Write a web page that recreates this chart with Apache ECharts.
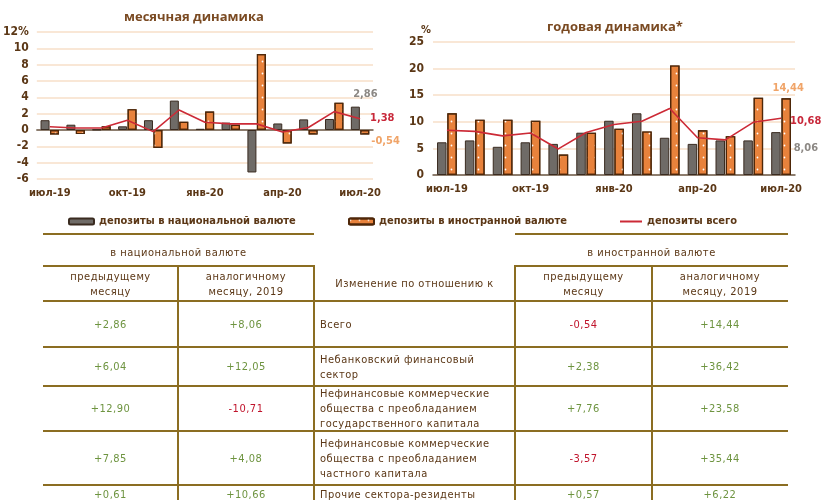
<!DOCTYPE html>
<html>
<head>
<meta charset="utf-8">
<script src="https://cdn.jsdelivr.net/npm/echarts@6/dist/echarts.min.js"></script>
<style>
  html, body { margin: 0; padding: 0; background: #fff; }
  #page { position: relative; width: 821px; height: 500px; overflow: hidden; }
  #chart { position: absolute; left: 0; top: 0; width: 821px; height: 240px; }
  #tbl { position: absolute; left: 0; top: 0; width: 821px; height: 500px; pointer-events: none;
    font-family: "DejaVu Sans Condensed", sans-serif; font-size: 11px; }
  .ln { position: absolute; background: #8b6d22; }
  .tx { position: absolute; display: flex; align-items: center; line-height: 15px; letter-spacing: 0.5px; }
</style>
</head>
<body>
<div id="page">
  <div id="chart"></div>
  <div id="tbl"></div>
</div>
<script>
// months on both charts
const months = ['июл-19', 'авг-19', 'сен-19', 'окт-19', 'ноя-19', 'дек-19', 'янв-20',
  'фев-20', 'мар-20', 'апр-20', 'май-20', 'июн-20', 'июл-20']

// monthly change, %
const monthlyNational = [1.2, 0.65, 0.05, 0.45, 1.2, 3.6, 0.15, 0.9, -5.2, 0.8, 1.3, 1.35, 2.86]
const monthlyForeign = [-0.55, -0.5, 0.45, 2.55, -2.2, 1.0, 2.25, 0.65, 9.3, -1.65, -0.55, 3.35, -0.54]
const monthlyTotal = [0.4, 0.25, 0.25, 1.2, -0.2, 2.45, 0.95, 0.75, 0.75, -0.25, 0.3, 2.25, 1.38]

// yearly change, %
const yearlyNational = [6.15, 6.5, 5.3, 6.15, 5.85, 7.95, 10.2, 11.6, 7.0, 5.85, 6.5, 6.5, 8.06]
const yearlyForeign = [11.6, 10.4, 10.4, 10.2, 3.85, 7.95, 8.7, 8.2, 20.6, 8.4, 7.3, 14.5, 14.44]
const yearlyTotal = [8.4, 8.2, 7.35, 7.9, 4.9, 8.0, 9.5, 10.1, 12.5, 7.0, 6.6, 9.9, 10.68]

// table
const rowNames = [
  ['Всего'],
  ['Небанковский финансовый', 'сектор'],
  ['Нефинансовые коммерческие', 'общества с преобладанием', 'государственного капитала'],
  ['Нефинансовые коммерческие', 'общества с преобладанием', 'частного капитала'],
  ['Прочие сектора-резиденты']
]
const natPrevMonth = [2.86, 6.04, 12.90, 7.85, 0.61]
const natYearAgo = [8.06, 12.05, -10.71, 4.08, 10.66]
const forPrevMonth = [-0.54, 2.38, 7.76, -3.57, 0.57]
const forYearAgo = [14.44, 36.42, 23.58, 35.44, 6.22]

const NAT = 'депозиты в национальной валюте'
const FOR = 'депозиты в иностранной валюте'
const TOT = 'депозиты всего'

const brown = '#5b3716'
const font = '"DejaVu Sans Condensed", sans-serif'
const gridColor = '#f7dfc9'
const fmt = v => v.toFixed(2).replace('.', ',')

const natStyle = { color: '#6f6b67', borderColor: '#3a2b20', borderWidth: 1 }
const forStyle = {
  color: '#e8823c', borderColor: '#4e2709', borderWidth: 1.2,
  decal: { symbol: 'circle', symbolSize: 0.6, color: '#ffffff', dashArrayX: [3, 6], dashArrayY: [3, 9] }
}
const lineStyle = { color: '#cc2a36', width: 1.6 }

function lastLabel(arr, label) {
  return arr.map((v, i) => i === arr.length - 1 ? { value: v, label: Object.assign({ show: true }, label) } : v)
}

function catAxis(gridIndex, extra) {
  return Object.assign({
    type: 'category', gridIndex, data: months,
    axisLine: { lineStyle: { color: '#6a5b4c', width: 1.5 } },
    axisTick: { interval: 2, length: 4, lineStyle: { color: '#6a5b4c' } },
    axisLabel: { interval: 2, color: brown, fontWeight: 'bold', fontSize: 11, fontFamily: font, margin: 9 }
  }, extra)
}

function valAxis(gridIndex, min, max, interval, extra) {
  return Object.assign({
    type: 'value', gridIndex, min, max, interval,
    axisLine: { show: false }, axisTick: { show: false },
    splitLine: { lineStyle: { color: gridColor, width: 1.5 } },
    axisLabel: { color: brown, fontWeight: 'bold', fontSize: 12, fontFamily: font, margin: 9 }
  }, extra)
}

const annot = { fontWeight: 'bold', fontSize: 11, fontFamily: font }
const legendText = { color: brown, fontWeight: 'bold', fontSize: 11, fontFamily: font }

const chart = echarts.init(document.getElementById('chart'))
chart.setOption({
  animation: false,
  title: [
    { text: 'месячная динамика', left: 124, top: 11, padding: 0,
      textStyle: { color: '#7a4a22', fontSize: 13, fontWeight: 'bold', fontFamily: 'Open Sans' } },
    { text: 'годовая динамика*', left: 547, top: 21, padding: 0,
      textStyle: { color: '#7a4a22', fontSize: 13, fontWeight: 'bold', fontFamily: 'Open Sans' } }
  ],
  legend: [
    { data: [NAT], left: 68, top: 216, padding: 0, itemWidth: 25, itemHeight: 6, textStyle: legendText },
    { data: [FOR], left: 348, top: 216, padding: 0, itemWidth: 25, itemHeight: 6, textStyle: legendText },
    { data: [TOT], left: 620, top: 216, padding: 0, itemWidth: 22, itemHeight: 2, icon: 'rect', textStyle: legendText }
  ],
  grid: [
    { left: 32, top: 32, width: 341, height: 147 },
    { left: 433, top: 42, width: 362, height: 133 }
  ],
  xAxis: [
    catAxis(0, { axisLabel: { show: false } }),
    catAxis(0, { position: 'bottom', axisLine: { show: false, onZero: false }, axisTick: { show: false } }),
    catAxis(1)
  ],
  yAxis: [
    valAxis(0, -6, 12, 2, { axisLabel: { color: brown, fontWeight: 'bold', fontSize: 12, fontFamily: font, margin: 8,
      formatter: v => v === 12 ? '12%' : String(v) } }),
    valAxis(1, 0, 25, 5, { name: '%', nameGap: 4,
      nameTextStyle: { color: brown, fontWeight: 'bold', fontSize: 11, fontFamily: font, align: 'right', padding: [0, 2, 0, 0] } })
  ],
  series: [
    { name: NAT, type: 'bar', xAxisIndex: 0, yAxisIndex: 0, barWidth: 9, barGap: '5%', itemStyle: natStyle,
      data: lastLabel(monthlyNational, Object.assign({ position: 'top', offset: [10, -2],
        formatter: p => fmt(p.value), color: '#8c8884' }, annot)) },
    { name: FOR, type: 'bar', xAxisIndex: 0, yAxisIndex: 0, barWidth: 9, barGap: '5%', itemStyle: forStyle,
      data: lastLabel(monthlyForeign, Object.assign({ position: 'right', offset: [-3, 9],
        formatter: p => '-' + fmt(Math.abs(p.value)), color: '#f0a468' }, annot)) },
    { name: TOT, type: 'line', xAxisIndex: 0, yAxisIndex: 0, data: monthlyTotal, symbol: 'none',
      lineStyle, itemStyle: { color: lineStyle.color },
      endLabel: Object.assign({ show: true, distance: 10, offset: [0, -1], formatter: p => fmt(p.value),
        color: '#c8283a' }, annot) },

    { name: NAT, type: 'bar', xAxisIndex: 2, yAxisIndex: 1, barWidth: 9.5, barGap: '8%', itemStyle: natStyle,
      data: lastLabel(yearlyNational, Object.assign({ position: 'right', offset: [8, -5],
        formatter: p => fmt(p.value), color: '#8c8884' }, annot)) },
    { name: FOR, type: 'bar', xAxisIndex: 2, yAxisIndex: 1, barWidth: 9.5, barGap: '8%', itemStyle: forStyle,
      data: lastLabel(yearlyForeign, Object.assign({ position: 'top', offset: [2, 0],
        formatter: p => fmt(p.value), color: '#f0a468' }, annot)) },
    { name: TOT, type: 'line', xAxisIndex: 2, yAxisIndex: 1, data: yearlyTotal, symbol: 'none',
      lineStyle, itemStyle: { color: lineStyle.color },
      endLabel: Object.assign({ show: true, distance: 9, offset: [0, 3], formatter: p => fmt(p.value),
        color: '#c8283a' }, annot) }
  ]
})

// ---- table ----
const tbl = document.getElementById('tbl')
const colEdges = [43, 178, 314, 515, 652, 788]
const rowEdges = [301, 347, 386, 431, 485, 530]
const green = '#6e9440'
const red = '#c0142c'

function line(x, y, w, h) {
  const d = document.createElement('div')
  d.className = 'ln'
  Object.assign(d.style, { left: x + 'px', top: y + 'px', width: w + 'px', height: h + 'px' })
  tbl.appendChild(d)
}
function text(html, x, y, w, h, align, color) {
  const d = document.createElement('div')
  d.className = 'tx'
  Object.assign(d.style, { left: x + 'px', top: y + 'px', width: w + 'px', height: h + 'px', color,
    justifyContent: align === 'left' ? 'flex-start' : 'center', textAlign: align })
  d.innerHTML = html
  tbl.appendChild(d)
}

// header lines
line(43, 233, 271, 2); line(515, 233, 273, 2)
line(43, 265, 271, 2); line(515, 265, 273, 2)
rowEdges.slice(0, -1).forEach(y => line(43, y - 1, 745, 2))
;[178, 314, 515, 652].forEach(x => line(x - 1, 265, 2, 240))

text('в национальной валюте', 43, 244, 271, 16, 'center', brown)
text('в иностранной валюте', 515, 244, 273, 16, 'center', brown)
const sub = ['предыдущему<br>месяцу', 'аналогичному<br>месяцу, 2019']
text(sub[0], 43, 267, 135, 33, 'center', brown)
text(sub[1], 178, 267, 136, 33, 'center', brown)
text('Изменение по отношению к', 314, 267, 201, 33, 'center', brown)
text(sub[0], 515, 267, 137, 33, 'center', brown)
text(sub[1], 652, 267, 136, 33, 'center', brown)

const sign = v => (v < 0 ? '-' : '+') + fmt(Math.abs(v))
const colVals = [natPrevMonth, natYearAgo, null, forPrevMonth, forYearAgo]
rowNames.forEach((name, r) => {
  const y0 = rowEdges[r] + 1
  const h = Math.min(rowEdges[r + 1], 500) - y0 - 1
  const hh = r === rowNames.length - 1 ? 16 : h
  colVals.forEach((vals, c) => {
    const x0 = colEdges[c], w = colEdges[c + 1] - x0
    if (vals) {
      text(sign(vals[r]), x0, y0, w, hh, 'center', vals[r] < 0 ? red : green)
    } else {
      text(name.join('<br>'), x0 + 6, y0, w - 6, hh, 'left', brown)
    }
  })
})
</script>
</body>
</html>
